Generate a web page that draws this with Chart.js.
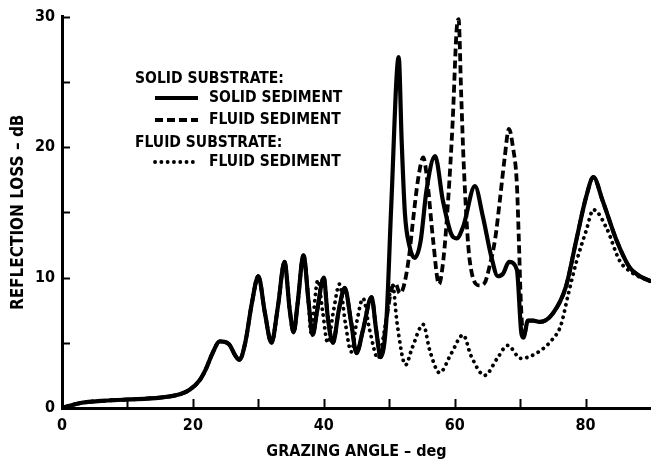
<!DOCTYPE html>
<html>
<head>
<meta charset="utf-8">
<script src="https://cdn.jsdelivr.net/npm/chart.js@4/dist/chart.umd.min.js"></script>
<style>
  html, body { margin: 0; padding: 0; background: #fff; }
  #wrap { width: 651px; height: 462px; position: relative; }
</style>
</head>
<body>
<div id="wrap"><canvas id="c" width="651" height="462"></canvas></div>
<script>
// ---- data ----
const seriesNames = ["SOLID SEDIMENT", "FLUID SEDIMENT", "FLUID SEDIMENT"];
const groupNames = ["SOLID SUBSTRATE:", "FLUID SUBSTRATE:"];

const solidAngle = [0, 1, 3, 6, 10, 15, 18, 19.5, 21, 22, 23, 24.1, 25.5, 26.5, 27.1, 28, 29, 30, 31, 32, 33, 34, 34.8, 35.4, 36, 36.9, 37.7, 38.3, 39, 40, 40.6, 41.4, 42.3, 43.2, 44.2, 45, 46, 47.3, 48, 48.7, 49.6, 50.3, 51.45, 51.9, 52.4, 53.1, 53.9, 54.8, 55.7, 57, 58.2, 59.5, 60.3, 61.3, 63.1, 64.3, 65.6, 66.6, 67.4, 68.3, 69.5, 70.2, 70.5, 71.2, 72, 73, 75, 77, 78.6, 80.1, 81.2, 82.6, 84.7, 86.7, 88, 90];
const solidLoss  = [0, 0.15, 0.4, 0.55, 0.65, 0.8, 1.05, 1.4, 2.1, 3.0, 4.2, 5.1, 4.9, 4.0, 3.7, 5.0, 8.0, 10.1, 7.3, 5.0, 7.8, 11.2, 7.5, 5.8, 8.0, 11.7, 8.0, 5.6, 7.5, 10.0, 7.0, 5.0, 7.5, 9.2, 6.5, 4.2, 6.0, 8.5, 6.0, 3.9, 7.0, 15.4, 26.9, 20.5, 14.9, 12.4, 11.5, 12.8, 16.7, 19.3, 15.9, 13.3, 13.0, 13.9, 17.0, 14.7, 11.6, 10.1, 10.3, 11.2, 10.6, 5.7, 5.4, 6.7, 6.7, 6.6, 7.25, 9.3, 12.9, 16.2, 17.7, 15.9, 12.9, 10.8, 10.2, 9.7];

const fluidSedAngle = [0, 1, 3, 6, 10, 15, 18, 19.5, 21, 22, 23, 24.1, 25.5, 26.5, 27.1, 28, 29, 30, 31, 32, 33, 34, 34.8, 35.4, 36, 36.9, 37.7, 38.3, 39, 40, 40.6, 41.4, 42.3, 43.2, 44.2, 45, 46, 47.3, 48, 48.7, 49.5, 50.3, 51.0, 51.6, 52.2, 53.0, 53.6, 54.4, 55.2, 55.8, 56.7, 57.6, 58.3, 59.0, 59.7, 60.3, 60.6, 61.0, 61.4, 62.3, 63.8, 64.6, 65.3, 66.2, 66.9, 67.6, 68.3, 68.9, 69.5, 69.8, 70.1, 70.5, 71.2, 72, 73, 75, 77, 78.6, 80.1, 81.2, 82.6, 84.7, 86.7, 88, 90];
const fluidSedLoss  = [0, 0.15, 0.4, 0.55, 0.65, 0.8, 1.05, 1.4, 2.1, 3.0, 4.2, 5.1, 4.9, 4.0, 3.7, 5.0, 8.0, 10.1, 7.3, 5.0, 7.8, 11.2, 7.5, 5.8, 8.0, 11.7, 8.0, 5.6, 7.5, 10.0, 7.0, 5.0, 7.5, 9.2, 6.5, 4.2, 6.0, 8.5, 6.0, 3.9, 6.5, 9.0, 9.5, 8.8, 9.3, 11.5, 14.2, 17.5, 19.2, 17.5, 12.9, 9.5, 11.5, 15.9, 22.0, 29.0, 29.8, 24.0, 18.5, 11.3, 9.4, 9.6, 10.8, 13.0, 15.9, 19.0, 21.4, 20.0, 17.2, 13.0, 8.3, 5.4, 6.7, 6.7, 6.6, 7.25, 9.3, 12.9, 16.2, 17.7, 15.9, 12.9, 10.8, 10.2, 9.7];

const fluidSubAngle = [0, 1, 3, 6, 10, 15, 18, 19.5, 21, 22, 23, 24.1, 25.5, 26.5, 27.1, 28, 29, 30, 31, 32, 33, 34, 34.8, 35.4, 36, 36.9, 37.7, 38.0, 39.1, 39.8, 40.6, 41.5, 42.4, 43.3, 44.2, 45, 46, 47, 48.3, 49.3, 50.5, 51.2, 52.5, 53.5, 55.2, 56.2, 57.7, 59.5, 61.3, 62.5, 64.6, 66.5, 68.1, 70.1, 72.5, 75, 76.2, 77.4, 78.6, 80.1, 81.2, 83.2, 85.2, 87, 90];
const fluidSubLoss  = [0, 0.15, 0.4, 0.55, 0.65, 0.8, 1.05, 1.4, 2.1, 3.0, 4.2, 5.1, 4.9, 4.0, 3.7, 5.0, 8.0, 10.1, 7.3, 5.0, 7.8, 11.2, 7.5, 5.8, 8.0, 11.7, 8.0, 5.8, 9.8, 7.5, 5.0, 7.5, 9.5, 6.5, 4.3, 6.5, 8.4, 6.0, 3.8, 6.0, 9.5, 6.5, 3.3, 4.6, 6.4, 4.4, 2.7, 4.2, 5.6, 4.0, 2.5, 3.8, 4.8, 3.8, 4.2, 5.3, 6.3, 8.8, 11.2, 13.6, 15.2, 13.8, 11.3, 10.4, 9.7];

const xTickLabels = [0, 20, 40, 60, 80];
const xTickMarks = [0, 10, 20, 30, 40, 50, 60, 70, 80];
const yTickLabels = [0, 10, 20, 30];
const yTickMarks = [0, 5, 10, 15, 20, 25, 30];
const xTitle = "GRAZING ANGLE \u2013 deg";
const yTitle = "REFLECTION LOSS \u2013 dB";

// ---- chart ----
const pts = (xs, ys) => xs.map((v, i) => ({ x: v, y: ys[i] }));
const FONT = "'DejaVu Sans Condensed', 'DejaVu Sans', sans-serif";

const datasets = [
  { label: seriesNames[0], data: pts(solidAngle, solidLoss), borderColor: '#000', borderWidth: 4.2, borderDash: [], borderCapStyle: 'butt' },
  { label: seriesNames[1], data: pts(fluidSedAngle, fluidSedLoss), borderColor: '#000', borderWidth: 3.8, borderDash: [8, 4], borderCapStyle: 'butt' },
  { label: seriesNames[2], data: pts(fluidSubAngle, fluidSubLoss), borderColor: '#000', borderWidth: 3.8, borderDash: [0.1, 6.2], borderCapStyle: 'round' }
].map(d => Object.assign(d, { pointRadius: 0, fill: false, cubicInterpolationMode: 'monotone', borderJoinStyle: 'round' }));
// draw dotted first, then dashed, then solid on top
datasets.reverse();

const inwardTicks = {
  id: 'inwardTicks',
  afterDatasetsDraw(chart) {
    const { ctx, scales: { x, y } } = chart;
    ctx.save();
    ctx.strokeStyle = '#000';
    ctx.lineWidth = 2;
    xTickMarks.forEach(v => {
      const px = Math.round(x.getPixelForValue(v)) + 0.5;
      ctx.beginPath(); ctx.moveTo(px, y.bottom); ctx.lineTo(px, y.bottom - 9); ctx.stroke();
    });
    yTickMarks.forEach(v => {
      const py = Math.round(y.getPixelForValue(v)) + 0.5;
      ctx.beginPath(); ctx.moveTo(x.left, py); ctx.lineTo(x.left + 8, py); ctx.stroke();
    });
    ctx.restore();
  }
};

const legendBox = {
  id: 'legendBox',
  afterDraw(chart) {
    const ctx = chart.ctx;
    const byLabelIdx = [2, 1, 0]; // datasets reversed
    const ds = chart.data.datasets;
    ctx.save();
    ctx.fillStyle = '#000';
    ctx.textBaseline = 'middle';
    ctx.font = "bold 15.5px " + FONT;
    ctx.fillText(groupNames[0], 135, 79);
    ctx.fillText(groupNames[1], 135, 143);
    const rows = [[ds[byLabelIdx[0]], 98], [ds[byLabelIdx[1]], 120], [ds[byLabelIdx[2]], 162]];
    rows.forEach(([d, yy]) => {
      ctx.strokeStyle = '#000';
      ctx.lineWidth = d.borderWidth;
      ctx.setLineDash(d.borderDash);
      ctx.lineCap = d.borderCapStyle;
      ctx.beginPath(); ctx.moveTo(155, yy); ctx.lineTo(198, yy); ctx.stroke();
      ctx.setLineDash([]);
      ctx.fillText(d.label, 209, yy);
    });
    ctx.restore();
  }
};

new Chart(document.getElementById('c'), {
  type: 'line',
  data: { datasets },
  options: {
    responsive: false,
    animation: false,
    devicePixelRatio: 1,
    layout: { padding: { top: 16, right: 0, left: 0, bottom: 0 } },
    plugins: { legend: { display: false }, tooltip: { enabled: false } },
    scales: {
      x: {
        type: 'linear', min: 0, max: 90,
        afterBuildTicks: s => { s.ticks = xTickLabels.map(v => ({ value: v })); },
        afterFit: s => { s.height = 54; },
        grid: { display: false, drawTicks: false },
        border: { display: true, width: 3, color: '#000' },
        ticks: { color: '#000', padding: 8, maxRotation: 0, font: { family: FONT, weight: 'bold', size: 16 } },
        title: { display: true, text: xTitle, color: '#000', padding: { top: 6, bottom: 1 }, font: { family: FONT, weight: 'bold', size: 16 } }
      },
      y: {
        type: 'linear', min: 0, max: 30,
        afterBuildTicks: s => { s.ticks = yTickLabels.map(v => ({ value: v })); },
        afterFit: s => { s.width = 62; },
        grid: { display: false, drawTicks: false },
        border: { display: true, width: 3, color: '#000' },
        ticks: { color: '#000', padding: 7, font: { family: FONT, weight: 'bold', size: 16 } },
        title: { display: true, text: yTitle, color: '#000', padding: { top: 8, bottom: 2 }, font: { family: FONT, weight: 'bold', size: 17 } }
      }
    }
  },
  plugins: [inwardTicks, legendBox]
});
</script>
</body>
</html>
